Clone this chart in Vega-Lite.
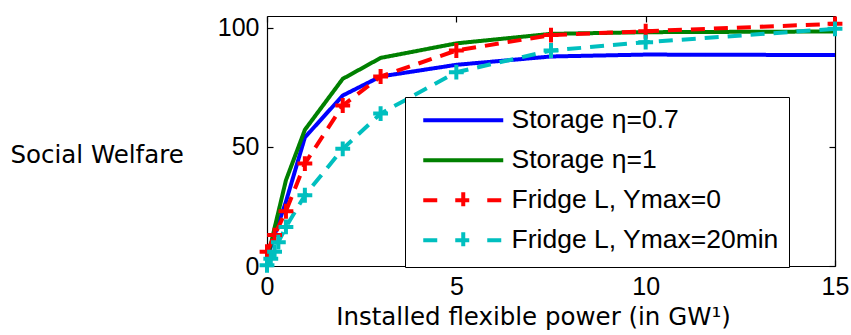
{
  "$schema": "https://vega.github.io/schema/vega-lite/v6.json",
  "width": 568,
  "height": 250,
  "autosize": {"type": "none"},
  "padding": {"left": 267, "top": 16, "right": 16, "bottom": 69},
  "background": "white",
  "config": {
    "view": {"stroke": null},
    "axis": {
      "grid": false,
      "domainColor": "black",
      "domainWidth": 1.2,
      "tickColor": "black",
      "tickWidth": 1.2,
      "tickSize": -6,
      "labelColor": "black",
      "labelFont": "Liberation Sans",
      "labelFontSize": 25,
      "titleColor": "black",
      "titleFont": "DejaVu Sans",
      "titleFontWeight": "normal",
      "titleFontSize": 24.5
    }
  },
  "data": {
    "values": [
      {"series": "Storage η=0.7", "x": 0, "y": 4},
      {"series": "Storage η=0.7", "x": 0.1, "y": 8},
      {"series": "Storage η=0.7", "x": 0.2, "y": 13},
      {"series": "Storage η=0.7", "x": 0.5, "y": 27},
      {"series": "Storage η=0.7", "x": 1, "y": 54},
      {"series": "Storage η=0.7", "x": 2, "y": 71.6},
      {"series": "Storage η=0.7", "x": 3, "y": 79.6},
      {"series": "Storage η=0.7", "x": 5, "y": 84.5},
      {"series": "Storage η=0.7", "x": 7.5, "y": 88},
      {"series": "Storage η=0.7", "x": 10, "y": 88.8},
      {"series": "Storage η=0.7", "x": 15, "y": 88.6},
      {"series": "Storage η=1", "x": 0, "y": 4},
      {"series": "Storage η=1", "x": 0.1, "y": 9},
      {"series": "Storage η=1", "x": 0.2, "y": 16},
      {"series": "Storage η=1", "x": 0.5, "y": 36},
      {"series": "Storage η=1", "x": 1, "y": 57.2},
      {"series": "Storage η=1", "x": 2, "y": 78.6},
      {"series": "Storage η=1", "x": 3, "y": 87.4},
      {"series": "Storage η=1", "x": 5, "y": 93.5},
      {"series": "Storage η=1", "x": 7.5, "y": 97.5},
      {"series": "Storage η=1", "x": 10, "y": 98.2},
      {"series": "Storage η=1", "x": 15, "y": 98.5},
      {"series": "Fridge L, Ymax=0", "x": 0, "y": 6},
      {"series": "Fridge L, Ymax=0", "x": 0.2, "y": 13},
      {"series": "Fridge L, Ymax=0", "x": 0.5, "y": 23},
      {"series": "Fridge L, Ymax=0", "x": 1, "y": 43},
      {"series": "Fridge L, Ymax=0", "x": 2, "y": 67.4},
      {"series": "Fridge L, Ymax=0", "x": 3, "y": 79.6},
      {"series": "Fridge L, Ymax=0", "x": 5, "y": 90.5},
      {"series": "Fridge L, Ymax=0", "x": 7.5, "y": 97},
      {"series": "Fridge L, Ymax=0", "x": 10, "y": 98.6},
      {"series": "Fridge L, Ymax=0", "x": 15, "y": 101.7},
      {"series": "Fridge L, Ymax=20min", "x": 0, "y": 0.3},
      {"series": "Fridge L, Ymax=20min", "x": 0.1, "y": 3},
      {"series": "Fridge L, Ymax=20min", "x": 0.2, "y": 6},
      {"series": "Fridge L, Ymax=20min", "x": 0.3, "y": 10},
      {"series": "Fridge L, Ymax=20min", "x": 0.5, "y": 16.4},
      {"series": "Fridge L, Ymax=20min", "x": 1, "y": 29.7},
      {"series": "Fridge L, Ymax=20min", "x": 2, "y": 49.2},
      {"series": "Fridge L, Ymax=20min", "x": 3, "y": 64},
      {"series": "Fridge L, Ymax=20min", "x": 5, "y": 81.4},
      {"series": "Fridge L, Ymax=20min", "x": 7.5, "y": 90.5},
      {"series": "Fridge L, Ymax=20min", "x": 10, "y": 94},
      {"series": "Fridge L, Ymax=20min", "x": 15, "y": 99.6}
    ]
  },
  "layer": [
    {
      "mark": {"type": "line", "strokeWidth": 4, "clip": false},
      "encoding": {
        "x": {
          "field": "x", "type": "quantitative",
          "scale": {"domain": [0, 15], "nice": false, "zero": false},
          "axis": {
            "orient": "bottom", "values": [0, 5, 10, 15], "labelPadding": 14,
            "labelFlush": false,
            "title": "Installed flexible power (in GW¹)",
            "titleX": 266, "titlePadding": 6
          }
        },
        "y": {
          "field": "y", "type": "quantitative",
          "scale": {"domain": [0, 105], "nice": false},
          "axis": {
            "orient": "left", "values": [0, 50, 100], "labelPadding": 14,
            "title": "Social Welfare",
            "titleAngle": 0, "titleAlign": "left", "titleBaseline": "middle",
            "titleX": -257, "titleY": 139
          }
        },
        "color": {
          "field": "series", "type": "nominal",
          "scale": {
            "domain": ["Storage η=0.7", "Storage η=1", "Fridge L, Ymax=0", "Fridge L, Ymax=20min"],
            "range": ["#0000FF", "#008000", "#FF0000", "#00BFBF"]
          },
          "legend": {
            "orient": "none", "legendX": 138, "legendY": 81,
            "title": null,
            "strokeColor": "black", "fillColor": "white",
            "padding": 10,
            "labelFont": "Liberation Sans", "labelFontSize": 26.5, "labelColor": "black",
            "labelOffset": 70, "labelLimit": 500,
            "symbolSize": 400, "symbolStrokeWidth": 4,
            "rowPadding": 7,
            "encode": {
              "symbols": {
                "update": {
                  "shape": {"signal": "indexof(datum.value, 'Storage') == 0 ? 'M-0.5,0H7.5M3.5,-0.8V-0.79M3.5,0.8V0.79' : 'M-0.5,0H1.3M2.7,0H4.3M3.5,-0.8V0.8M5.9,0H7.5'"},
                  "fill": {"value": "transparent"},
                  "strokeDash": {"value": []}
                }
              }
            }
          }
        },
        "strokeDash": {
          "field": "series", "type": "nominal",
          "scale": {
            "domain": ["Storage η=0.7", "Storage η=1", "Fridge L, Ymax=0", "Fridge L, Ymax=20min"],
            "range": [[1, 0], [1, 0], [14, 9], [14, 9]]
          },
          "legend": null
        }
      }
    },
    {
      "transform": [{"filter": "indexof(datum.series, 'Fridge') == 0"}],
      "mark": {"type": "point", "shape": "M-1,0H1M0,-1V1", "filled": false, "strokeWidth": 4, "size": 220, "opacity": 1, "clip": false},
      "encoding": {
        "x": {
          "field": "x", "type": "quantitative",
          "axis": {"orient": "top", "values": [0, 5, 10, 15], "labels": false, "title": null}
        },
        "y": {
          "field": "y", "type": "quantitative",
          "axis": {"orient": "right", "values": [0, 50, 100], "labels": false, "title": null}
        },
        "color": {"field": "series", "type": "nominal", "legend": null}
      }
    }
  ],
  "resolve": {"axis": {"x": "independent", "y": "independent"}}
}
